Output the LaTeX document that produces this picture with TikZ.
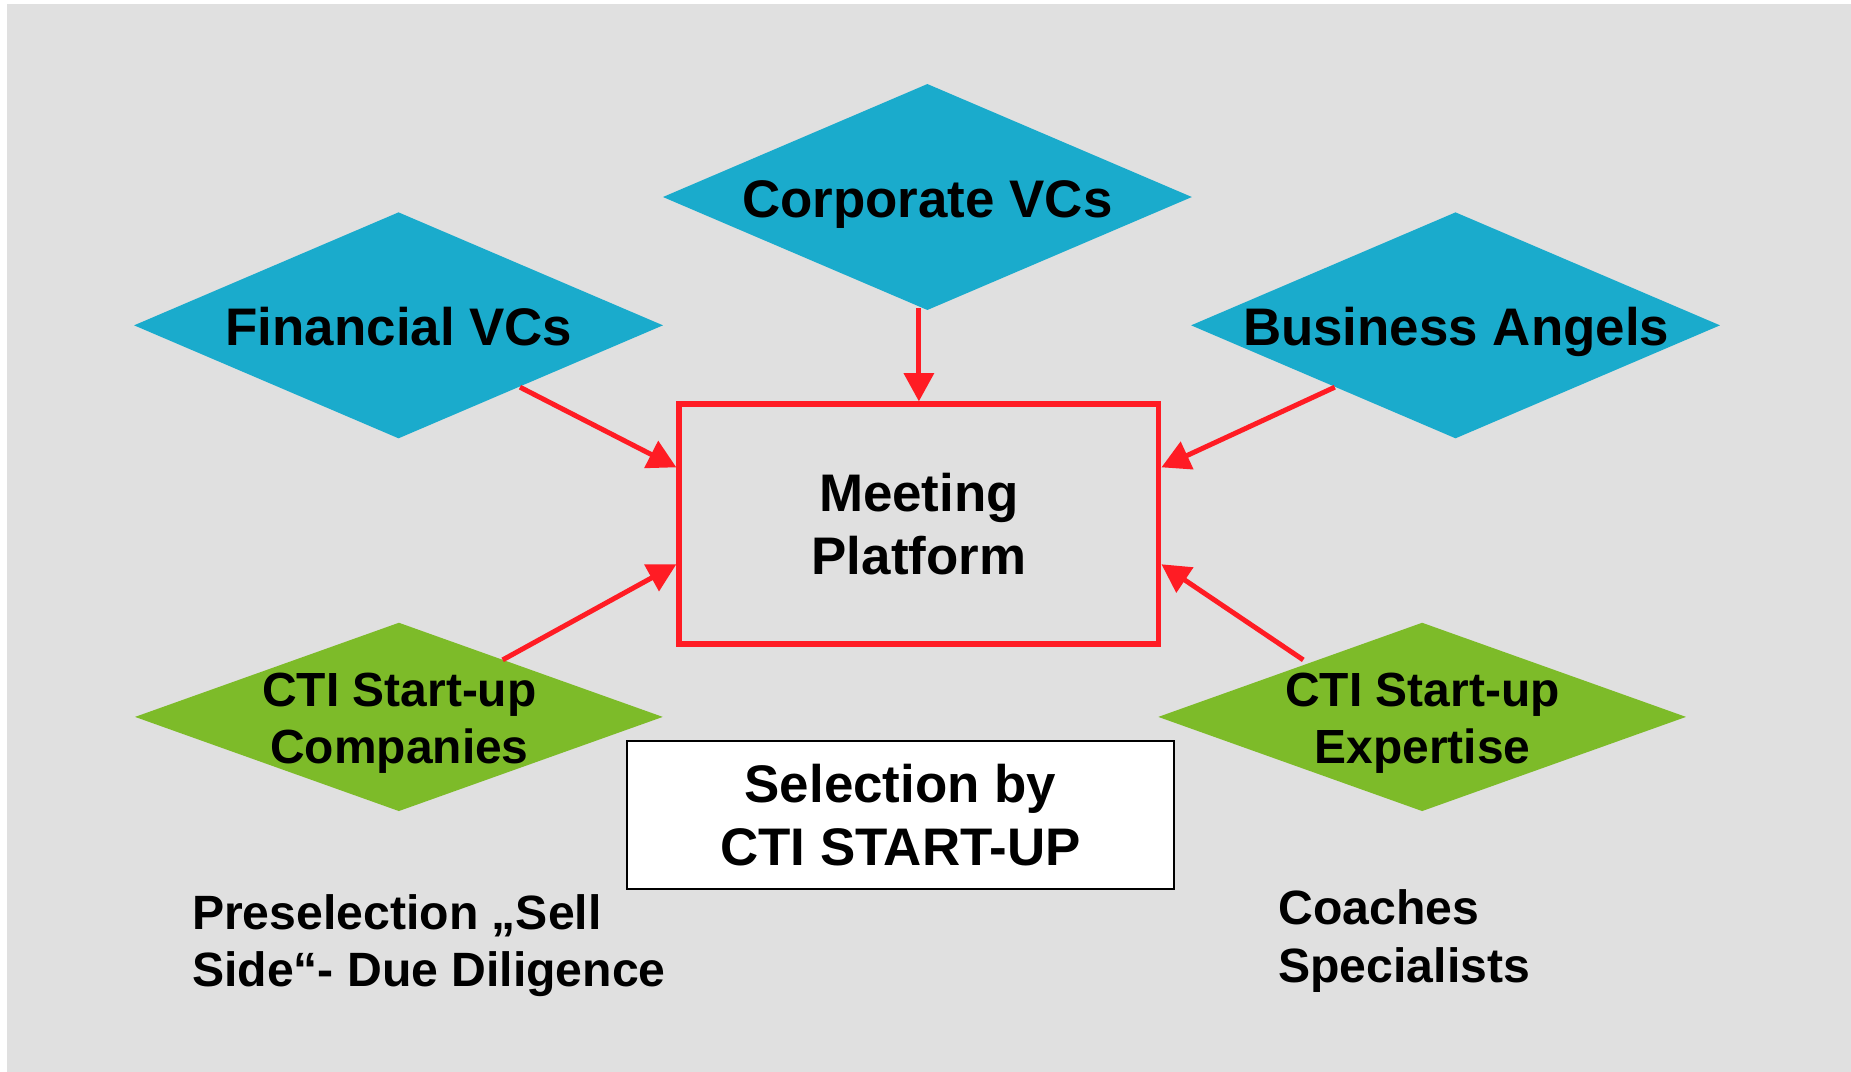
\documentclass[tikz,border=0pt]{standalone}
\usepackage{fontspec}
\setmainfont{Liberation Sans}
\usetikzlibrary{shapes.geometric,arrows.meta,calc}
\definecolor{bggray}{HTML}{E0E0E0}
\definecolor{dblue}{HTML}{1AABCC}
\definecolor{dgreen}{HTML}{7DBB29}
\definecolor{dred}{HTML}{FF1C24}
\begin{document}
\begin{tikzpicture}[x=0.5pt,y=-0.5pt,
  dia/.style={diamond, inner sep=0pt, outer sep=0pt, draw=none},
  bluedia/.style={dia, fill=dblue, minimum width=224pt, minimum height=95.7pt},
  greendia/.style={dia, fill=dgreen, minimum width=223.5pt, minimum height=79.75pt},
  bigtxt/.style={font=\fontsize{22.4}{26.8}\selectfont\bfseries, inner sep=0pt, align=center},
  midtxt/.style={font=\fontsize{20.3}{24.3}\selectfont\bfseries, inner sep=0pt},
  arr/.style={draw=dred, line width=2.1pt, -{Triangle[length=12pt,width=12.5pt]}}
]
\useasboundingbox (0,0) rectangle (1568,908);
\fill[white] (0,0) rectangle (1568,908);
\fill[bggray] (6,3) rectangle (1568,908);

% diamonds
\node[bluedia] (corp) at (785.6,166.9) {};
\node[bluedia] (fin) at (337.6,275.6) {};
\node[bluedia] (bus) at (1233,275.6) {};
\node[greendia] (comp) at (337.9,607.3) {};
\node[greendia] (expe) at (1204.7,607.3) {};

% diamond texts
\node[bigtxt, anchor=base] (corpt) at (785.6,184.5) {Corporate VCs};
\node[bigtxt, anchor=base] (fint) at (338,292.5) {Financial VCs};
\node[bigtxt, anchor=base] (bust) at (1233.5,292.5) {Business Angels};
\node[midtxt, align=center] (compt) at (338.4,612.5) {CTI Start-up\\Companies};
\node[midtxt, align=center] (expet) at (1205,612.5) {CTI Start-up\\Expertise};

% central box
\node[draw=dred, line width=2.25pt, minimum width=203.2pt, minimum height=101.6pt,
      inner sep=0pt, font=\fontsize{22.4}{26.8}\selectfont\bfseries, align=center]
      (mp) at (778.4,443.9) {Meeting\\Platform};

% selection box
\node[draw=black, fill=white, line width=1pt, minimum width=231.5pt, minimum height=62.5pt,
      inner sep=0pt, font=\fontsize{22.4}{27}\selectfont\bfseries, align=center]
      (sel) at (762.8,690.4) {Selection by\\CTI START-UP};

% bottom texts
\node[font=\fontsize{20.4}{24}\selectfont\bfseries, inner sep=0pt, align=left, anchor=north west]
      (pre) at (162.3,757.4) {Preselection „Sell\\Side“- Due Diligence};
\node[font=\fontsize{20.4}{24.7}\selectfont\bfseries, inner sep=0pt, align=left, anchor=north west]
      (coach) at (1082.5,753) {Coaches\\Specialists};

% connectors
\coordinate (cS) at (778.4,261);
\coordinate (fS) at (440.5,328);
\coordinate (bS) at (1130.7,328);
\coordinate (kS) at (425.8,559);
\coordinate (eS) at (1104,559);
\draw[arr] (cS) -- (mp.north);
\draw[arr] (fS) -- (mp.west |- 0,395.9);
\draw[arr] (bS) -- (mp.east |- 0,395.9);
\draw[arr] (kS) -- (mp.west |- 0,478);
\draw[arr] (eS) -- (mp.east |- 0,478);
\end{tikzpicture}
\end{document}
